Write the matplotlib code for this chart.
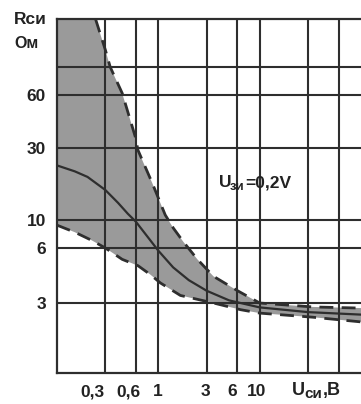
import numpy as np
import matplotlib
matplotlib.use("Agg")
import matplotlib.pyplot as plt
from matplotlib.transforms import ScaledTranslation

# верхняя граница разброса (штриховая)
upper_x = [0.24, 0.30, 0.335, 0.44, 0.59, 0.63, 0.87, 1.17, 1.41, 1.77, 2.43, 3.5, 6.06, 10, 33.5, 100]
upper_y = [200, 128, 100, 62, 35, 29, 17.6, 10.8, 8.6, 6.7, 5.2, 4.2, 3.5, 3.0, 2.82, 2.77]

# нижняя граница разброса (штриховая)
lower_x = [0.1, 0.15, 0.22, 0.30, 0.44, 0.63, 0.83, 1.05, 1.65, 3.5, 6.5, 10, 33.5, 100]
lower_y = [9.1, 8.0, 6.9, 6.0, 5.2, 4.8, 4.3, 3.86, 3.3, 3.0, 2.7, 2.56, 2.4, 2.23]

# типовая кривая (сплошная)
mid_x = [0.1, 0.15, 0.2, 0.3, 0.4, 0.5, 0.6, 0.8, 1.0, 1.4, 2.0, 3.0, 5.0, 10, 30, 100]
mid_y = [23, 21, 19.3, 15.8, 13, 11, 9.7, 7.2, 5.8, 4.7, 4.0, 3.5, 3.1, 2.8, 2.6, 2.5]

x_ticks = [0.3, 0.6, 1, 3, 6, 10, 30, 60]
x_labels = ['0,3', '0,6', '1', '3', '6', '10', '', '']
y_ticks = [3, 6, 10, 30, 60, 100]
y_labels = ['3', '6', '10', '30', '60', '']

# шкала Y в оригинале неравномерная: значение -> высота (px) от низа
y_scale_vals = [1, 3, 6, 10, 30, 60, 100, 200]
y_scale_pos = [0, 70, 125, 153, 225, 278, 306, 354]


def y_forward(v):
    v = np.clip(np.asarray(v, dtype=float), 1e-6, None)
    return np.interp(np.log10(v), np.log10(y_scale_vals), y_scale_pos)


def y_inverse(p):
    return 10 ** np.interp(p, y_scale_pos, np.log10(y_scale_vals))


plt.rcParams['font.family'] = ['Liberation Sans', 'DejaVu Sans']
plt.rcParams['font.weight'] = 'bold'

W, H = 361, 404
fig = plt.figure(figsize=(W / 100, H / 100), dpi=100)
ax = fig.add_axes([57 / W, 31 / H, 1 - 57 / W, (373 - 19) / H])

ax.set_xscale('log')
ax.set_yscale('function', functions=(y_forward, y_inverse))
ax.set_xlim(0.1, 100)
ax.set_ylim(1, 200)

gray = '#9a9a9a'
dark = '#2e2e2e'

# область разброса
poly_x = lower_x + upper_x[::-1] + [lower_x[0]]
poly_y = lower_y + upper_y[::-1] + [upper_y[0]]
ax.fill(poly_x, poly_y, color=gray, lw=0, zorder=1)

ax.plot(upper_x, upper_y, color=dark, lw=2.0, ls=(0, (5, 3)), zorder=3)
ax.plot(lower_x, lower_y, color=dark, lw=2.0, ls=(0, (5, 3)), zorder=3)
ax.plot(mid_x, mid_y, color=dark, lw=1.6, zorder=3)

ax.set_xticks(x_ticks)
ax.set_xticklabels(x_labels)
ax.xaxis.set_minor_locator(matplotlib.ticker.NullLocator())
ax.set_yticks(y_ticks)
ax.set_yticklabels(y_labels)
ax.yaxis.set_minor_locator(matplotlib.ticker.NullLocator())

ax.grid(True, color=dark, lw=1.5)
ax.set_axisbelow(False)
ax.tick_params(length=0, labelsize=12.5, colors='#222222')
ax.tick_params(axis='y', pad=8)
ax.tick_params(axis='x', pad=8)

# подписи 0,3 и 0,6 в оригинале сдвинуты влево
shifts = [-13, -7, -1, -1, -5, -3]
for lab, dx in zip(ax.get_xticklabels(), shifts):
    lab.set_transform(lab.get_transform() + ScaledTranslation(dx / 100, 0, fig.dpi_scale_trans))

for side in ['left', 'bottom', 'top']:
    ax.spines[side].set_color(dark)
    ax.spines[side].set_linewidth(1.6)
ax.spines['right'].set_visible(False)


def px(x, y):
    return x / W, 1 - y / H


c = '#222222'
fig.text(*px(14, 24), 'Rси', fontsize=12.5, color=c, va='baseline')
fig.text(*px(14, 48), 'Ом', fontsize=11.5, color=c, va='baseline')

# подпись оси X
fig.text(*px(292, 395), 'U', fontsize=13, color=c, va='baseline')
fig.text(*px(304, 398), 'си', fontsize=11, color=c, va='baseline')
fig.text(*px(323, 395), ',B', fontsize=13, color=c, va='baseline')

# подпись параметра
fig.text(*px(219, 187), 'U', fontsize=12.5, color=c, va='baseline')
fig.text(*px(230, 190), 'зи', fontsize=9.5, color=c, va='baseline')
fig.text(*px(245, 187), '=0,2V', fontsize=12.5, color=c, va='baseline')

fig.savefig('out.png', dpi=100)
